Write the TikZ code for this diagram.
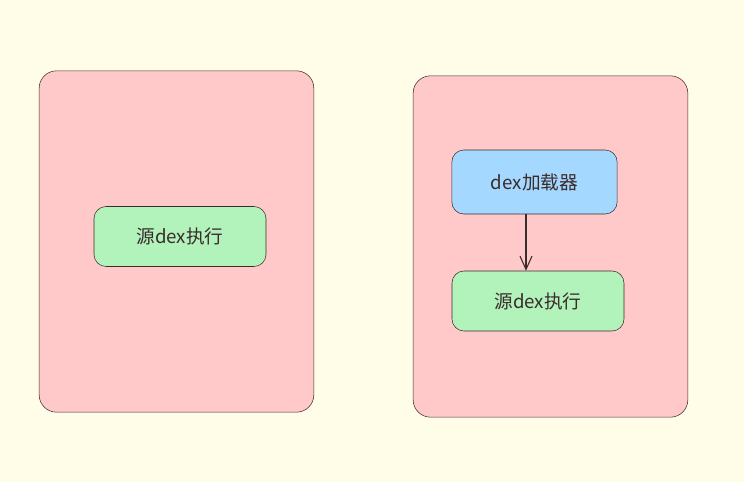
\documentclass[tikz,border=0pt]{standalone}
\usepackage{fontspec}
\setmainfont{Noto Sans CJK SC}
\usepackage{tikz}
\usetikzlibrary{arrows.meta, positioning}
\definecolor{paper}{HTML}{FFFDE8}
\definecolor{pinkfill}{HTML}{FFC9C9}
\definecolor{greenfill}{HTML}{B2F2BB}
\definecolor{bluefill}{HTML}{A5D8FF}
\definecolor{ink}{HTML}{3B2C2C}
\tikzset{x=0.75pt, y=-0.75pt,
    line width=1pt,
    panel/.style={draw=ink, fill=pinkfill, rounded corners=13pt,
        minimum width=206pt, minimum height=256pt},
    runbox/.style={draw=ink, fill=greenfill, rounded corners=9pt,
        minimum width=129pt, minimum height=45pt,
        font=\fontsize{14}{16}\selectfont, text=ink},
    loadbox/.style={draw=ink, fill=bluefill, rounded corners=9pt,
        minimum width=124pt, minimum height=48pt,
        font=\fontsize{14}{16}\selectfont, text=ink},
    flow/.style={draw=ink, line width=0.8pt, -{Straight Barb[length=10pt,width=9pt]}}}
\begin{document}
\begin{tikzpicture}
\fill[paper] (0,0) rectangle (744,482);
\useasboundingbox (0,0) rectangle (744,482);

% left panel
\node[panel]  (left)   at (176.5,241.5) {};
\node[runbox] (runA)   at (180,236.5)   {源dex执行};

% right panel
\node[panel]   (right)  at (550.5,246.5) {};
\node[loadbox] (loader) at (534.5,182)   {dex加载器};
\node[runbox]  (runB)   at (538,301)     {源dex执行};

\draw[flow] (loader.south -| 526,0) -- (runB.north -| 526,0);
\end{tikzpicture}
\end{document}
